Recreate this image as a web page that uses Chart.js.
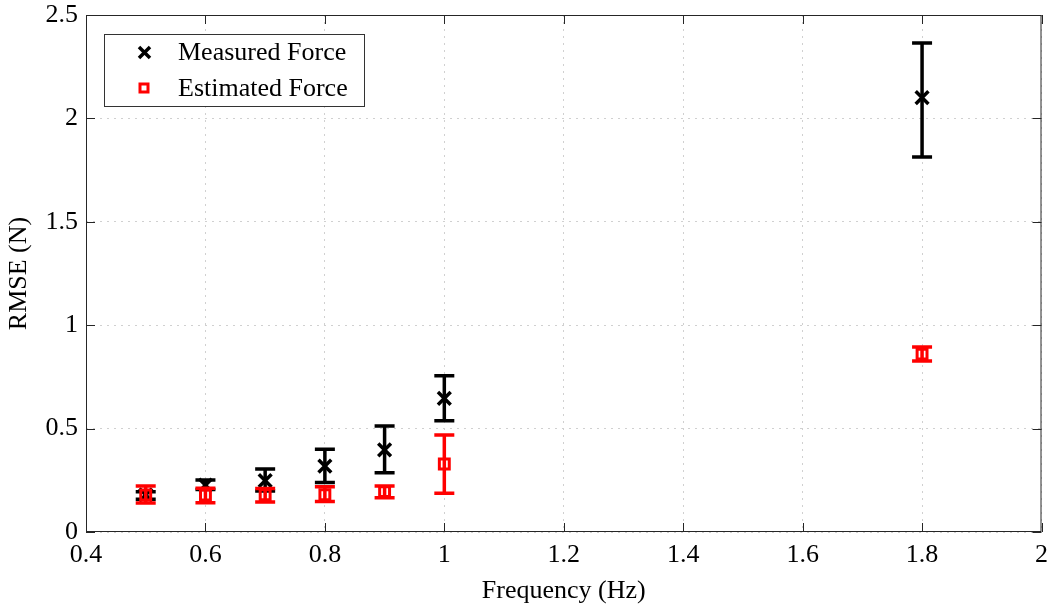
<!DOCTYPE html>
<html>
<head>
<meta charset="utf-8">
<script src="https://cdn.jsdelivr.net/npm/chart.js@4"></script>
<style>
  html, body { margin: 0; padding: 0; background: #fff; }
  #wrap { width: 1054px; height: 607px; }
</style>
</head>
<body>
<div id="wrap"><canvas id="rmseChart" width="1054" height="607"></canvas></div>
<script>
// frequencies (Hz)
const freqs = [0.5, 0.6, 0.7, 0.8, 0.9, 1.0, 1.8];

// measured force RMSE with error bounds
const measured = [0.18, 0.227, 0.248, 0.319, 0.397, 0.646, 2.10];
const measuredLow = [0.158, 0.205, 0.198, 0.239, 0.287, 0.538, 1.813];
const measuredHigh = [0.195, 0.251, 0.305, 0.40, 0.513, 0.756, 2.365];

// estimated force RMSE with error bounds
const estimated = [0.179, 0.179, 0.18, 0.18, 0.195, 0.329, 0.86];
const estimatedLow = [0.14, 0.142, 0.145, 0.147, 0.166, 0.187, 0.827];
const estimatedHigh = [0.222, 0.211, 0.21, 0.219, 0.222, 0.469, 0.895];

const xTicks = [0.4, 0.6, 0.8, 1, 1.2, 1.4, 1.6, 1.8, 2];
const yTicks = [0, 0.5, 1, 1.5, 2, 2.5];

const serif = "'Liberation Serif', 'DejaVu Serif', serif";
const fmt = v => String(Number(v.toFixed(1)));

const bounds = [[measuredLow, measuredHigh], [estimatedLow, estimatedHigh]];

// error bars drawn just before each dataset's markers
const errorBars = {
  id: 'errorBars',
  beforeDatasetDraw(chart, args) {
    const ctx = chart.ctx;
    const ds = chart.data.datasets[args.index];
    const [lo, hi] = bounds[args.index];
    const y = chart.scales.y;
    ctx.save();
    ctx.strokeStyle = ds.borderColor;
    ctx.lineWidth = ds.errWidth;
    args.meta.data.forEach((pt, i) => {
      const y1 = y.getPixelForValue(lo[i]);
      const y2 = y.getPixelForValue(hi[i]);
      ctx.beginPath();
      ctx.moveTo(pt.x, y1); ctx.lineTo(pt.x, y2);
      ctx.moveTo(pt.x - 10, y1); ctx.lineTo(pt.x + 10, y1);
      ctx.moveTo(pt.x - 10, y2); ctx.lineTo(pt.x + 10, y2);
      ctx.stroke();
    });
    ctx.restore();
  }
};

// box, inward ticks and legend
const frame = {
  id: 'frame',
  afterDraw(chart) {
    const ctx = chart.ctx;
    const a = chart.chartArea;
    const xs = chart.scales.x, ys = chart.scales.y;
    ctx.save();
    ctx.strokeStyle = '#262626';
    ctx.lineWidth = 1;
    ctx.strokeRect(a.left + 0.5, a.top + 0.5, a.right - a.left - 1, a.bottom - a.top - 1);
    ctx.beginPath();
    xTicks.forEach(t => {
      const px = Math.round(xs.getPixelForValue(t)) + 0.5;
      ctx.moveTo(px, a.bottom); ctx.lineTo(px, a.bottom - 9);
      ctx.moveTo(px, a.top); ctx.lineTo(px, a.top + 9);
    });
    yTicks.forEach(t => {
      const py = Math.round(ys.getPixelForValue(t)) + 0.5;
      ctx.moveTo(a.left, py); ctx.lineTo(a.left + 9, py);
      ctx.moveTo(a.right, py); ctx.lineTo(a.right - 9, py);
    });
    ctx.stroke();

    // legend
    const lx = 104, ly = 34, lw = 260, lh = 72;
    ctx.fillStyle = '#fff';
    ctx.fillRect(lx, ly, lw, lh);
    ctx.strokeStyle = '#333';
    ctx.strokeRect(lx + 0.5, ly + 0.5, lw, lh);
    ctx.lineWidth = 3.5;
    ctx.strokeStyle = '#000';
    ctx.beginPath();
    ctx.moveTo(139, 47); ctx.lineTo(150, 58);
    ctx.moveTo(150, 47); ctx.lineTo(139, 58);
    ctx.stroke();
    ctx.lineWidth = 3;
    ctx.strokeStyle = '#ff0000';
    ctx.strokeRect(140, 84, 8, 8);
    ctx.fillStyle = '#000';
    ctx.font = '26px ' + serif;
    ctx.textBaseline = 'middle';
    ctx.fillText('Measured Force', 178, 53);
    ctx.fillText('Estimated Force', 178, 89);
    ctx.restore();
  }
};

new Chart(document.getElementById('rmseChart'), {
  type: 'scatter',
  data: {
    datasets: [
      {
        label: 'Measured Force',
        data: freqs.map((f, i) => ({ x: f, y: measured[i] })),
        pointStyle: 'crossRot',
        pointRadius: 9,
        pointBorderWidth: 3.5,
        borderColor: '#000',
        backgroundColor: '#000',
        errWidth: 3.5,
        order: 2
      },
      {
        label: 'Estimated Force',
        data: freqs.map((f, i) => ({ x: f, y: estimated[i] })),
        pointStyle: 'rect',
        pointRadius: 7,
        pointBorderWidth: 3,
        borderColor: '#ff0000',
        backgroundColor: 'rgba(255,255,255,0)',
        errWidth: 3.5,
        order: 1
      }
    ]
  },
  options: {
    responsive: false,
    animation: false,
    layout: { padding: { top: 15, right: 8, left: 0, bottom: 0 } },
    plugins: {
      legend: { display: false },
      tooltip: { enabled: false }
    },
    scales: {
      x: {
        type: 'linear',
        min: 0.4, max: 2,
        afterBuildTicks: s => { s.ticks = xTicks.map(v => ({ value: v })); },
        afterFit: s => { s.height = 75; s.paddingLeft = 0; s.paddingRight = 0; },
        grid: { color: '#d0d0d0', drawTicks: false },
        border: { display: false, dash: [2, 5] },
        ticks: {
          color: '#000', padding: 8,
          font: { family: serif, size: 26 },
          callback: v => fmt(v)
        },
        title: {
          display: true, text: 'Frequency (Hz)', color: '#000',
          font: { family: serif, size: 26 }, padding: { top: 9, bottom: 0 }
        }
      },
      y: {
        min: 0, max: 2.5,
        afterBuildTicks: s => { s.ticks = yTicks.map(v => ({ value: v })); },
        afterFit: s => { s.width = 86; s.paddingTop = 0; s.paddingBottom = 0; },
        grid: { color: '#d0d0d0', drawTicks: false },
        border: { display: false, dash: [2, 5] },
        ticks: {
          color: '#000', padding: 8,
          font: { family: serif, size: 26 },
          callback: v => fmt(v)
        },
        title: {
          display: true, text: 'RMSE (N)', color: '#000',
          font: { family: serif, size: 26 }, padding: { bottom: 2 }
        }
      }
    }
  },
  plugins: [errorBars, frame]
});
</script>
</body>
</html>
